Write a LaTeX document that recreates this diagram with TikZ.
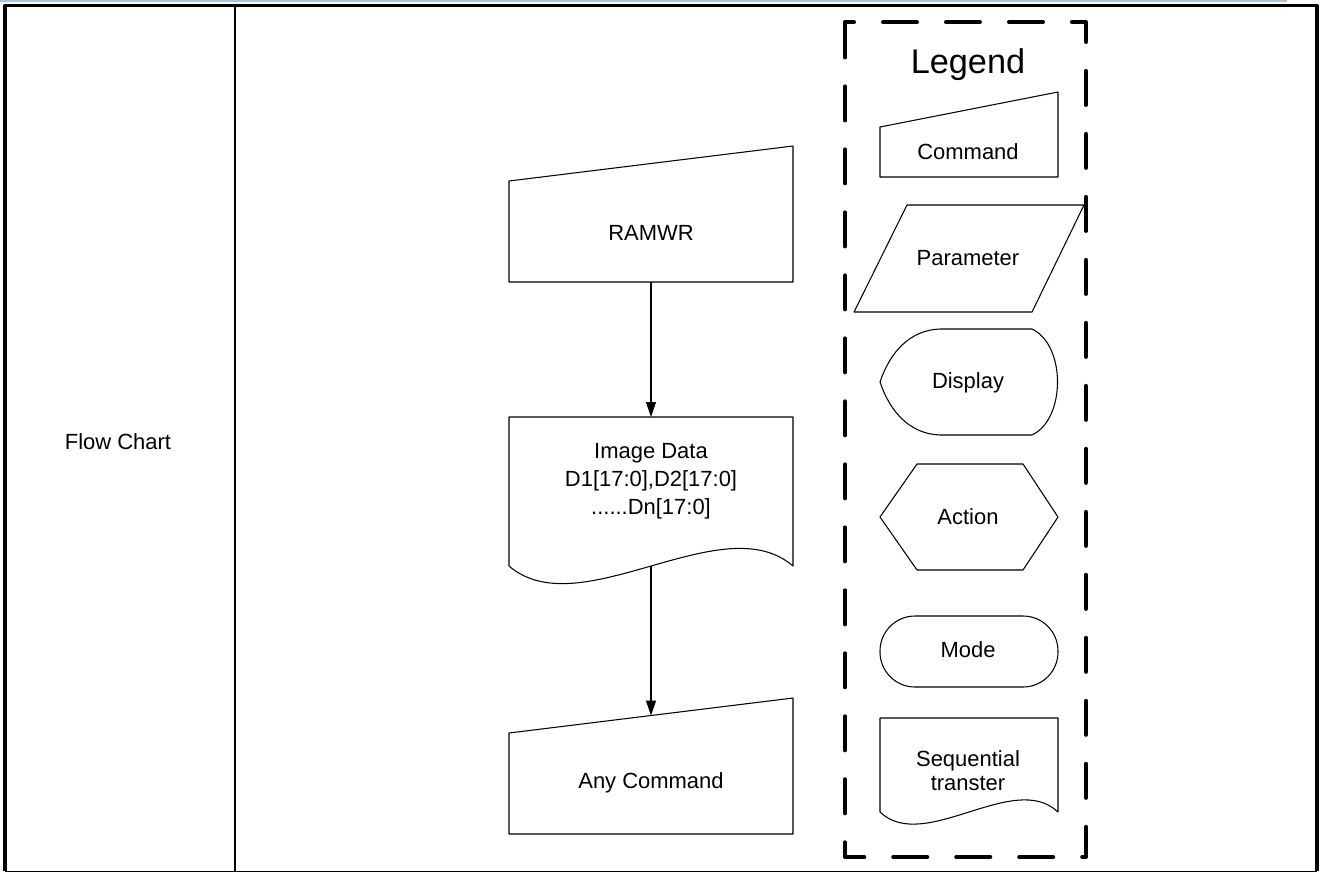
\documentclass[tikz,border=0pt]{standalone}
\usepackage{fontspec}
\setmainfont{Liberation Sans}
\usetikzlibrary{arrows.meta}
\definecolor{hdrblue}{RGB}{170,195,220}

\begin{document}
\begin{tikzpicture}[x=0.02cm,y=-0.02cm,line join=round,
  font=\fontsize{12.5}{16}\selectfont,
  shp/.style={draw,line width=0.6pt,fill=white},
  arr/.style={line width=0.6pt,-{Triangle[length=0.3cm,width=0.2cm]}},
  legbox/.style={line width=2.3pt,dash pattern=on 0.68cm off 0.58cm,line cap=round}]
	\useasboundingbox (0,0) rectangle (1321,873);
	% Tableau
	\draw[hdrblue,line width=1pt] (0,1) -- (1287,1);
	\draw[line width=2.1pt] (5,871) -- (5,5.5) -- (1317,5.5) -- (1317,871);
	\draw[line width=0.9pt] (5,871.5) -- (1317,871.5);
	\draw[line width=1.3pt] (235,5.5) -- (235,871.5);
	\node (title) at (118,442) {Flow Chart};
	% Flow chart
	\draw[shp] (509,181) -- (793,146) -- (793,282) -- (509,282) -- cycle;
	\node (ramwr) at (651,233) {RAMWR};
	\coordinate (ramwr-b) at (651,282);
	\draw[shp] (509,566) -- (509,417) -- (793,417) -- (793,566) .. controls (722,505) and (580,627) .. (509,566) -- cycle;
	\node[align=center] (img) at (651,481) {Image Data\\D1[17:0],D2[17:0]\\......Dn[17:0]};
	\coordinate (img-t) at (651,417);
	\coordinate (img-b) at (651,566);
	\draw[shp] (509,733) -- (793,698) -- (793,834) -- (509,834) -- cycle;
	\node (anycmd) at (651,783) {Any Command};
	\coordinate (anycmd-t) at (651,715.5);
	\draw[arr] (ramwr-b) -- (img-t);
	\draw[arr] (img-b) -- (anycmd-t);
	% Legend
	\draw[legbox] (845,47) -- (845,22) -- (1086,22) -- (1086,857) -- (845,857) -- cycle;
	\node[font=\fontsize{19.5}{22}\selectfont] (legend) at (968,65) {Legend};
	\draw[shp] (880,127) -- (1058,92) -- (1058,177) -- (880,177) -- cycle;
	\node (cmd) at (968,152) {Command};
	\draw[shp] (907,205) -- (1084,205) -- (1032,312) -- (854,312) -- cycle;
	\node (param) at (968,258) {Parameter};
	\draw[shp] (880,382) .. controls (890,352) and (910,330) .. (940,329) -- (1032,329)
	  .. controls (1066,345) and (1066,419) .. (1032,435) -- (940,435)
	  .. controls (910,434) and (890,412) .. (880,382) -- cycle;
	\node (disp) at (968,383) {Display};
	\draw[shp] (880,517) -- (917,464) -- (1023,464) -- (1058,517) -- (1023,570) -- (917,570) -- cycle;
	\node (action) at (968,517) {Action};
	\draw[shp,rounded corners=0.7cm] (880,616) rectangle (1058,687);
	\node (mode) at (968,650) {Mode};
	\draw[shp] (880,812) -- (880,718) -- (1058,718) -- (1058,812) .. controls (1014,770) and (924,854) .. (880,812) -- cycle;
	\node[align=center,font=\fontsize{12.5}{13.7}\selectfont] (seq) at (968,771) {Sequential\\transter};
\end{tikzpicture}
\end{document}
